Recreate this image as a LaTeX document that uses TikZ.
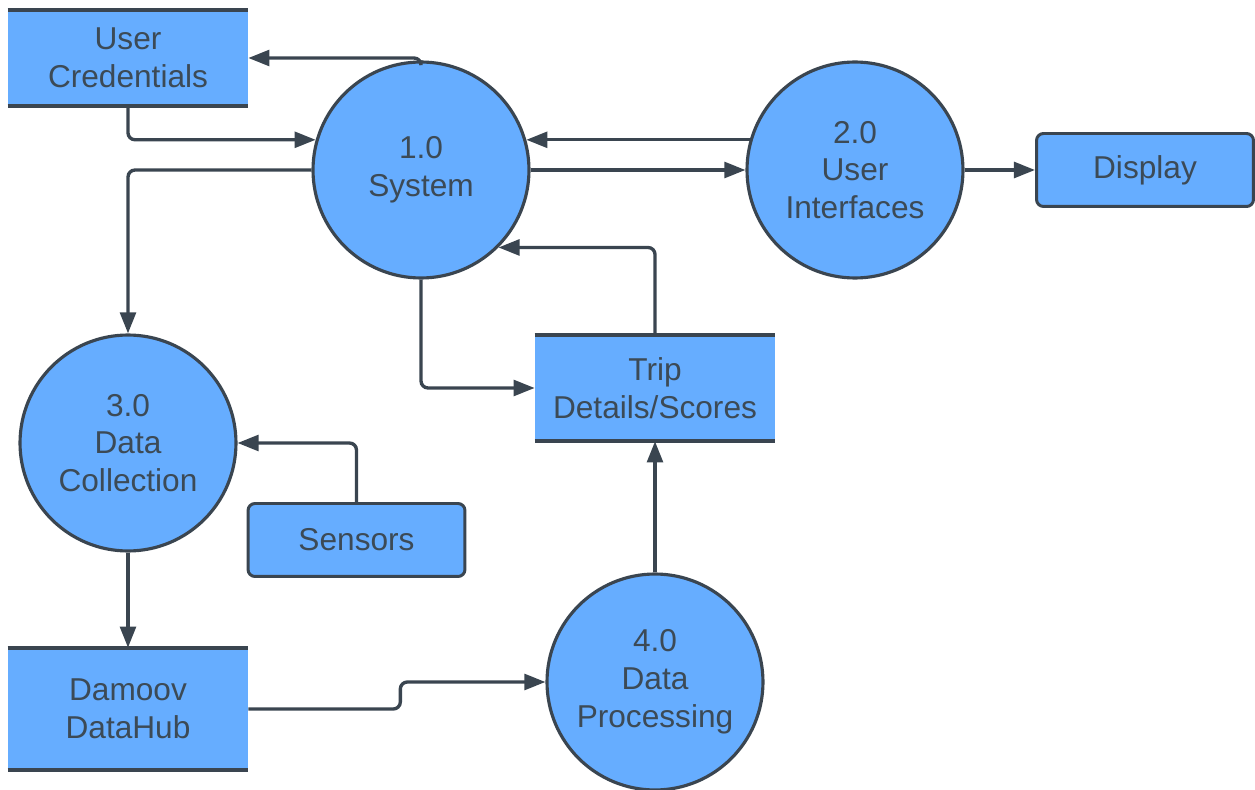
\documentclass[tikz,border=0pt]{standalone}
\usepackage{fontspec}
\setmainfont{Liberation Sans}
\usetikzlibrary{arrows.meta}
\definecolor{fillblue}{RGB}{102,173,255}
\definecolor{edge}{RGB}{58,69,80}
\definecolor{txt}{RGB}{60,74,86}
\begin{document}
\begin{tikzpicture}[x=0.02cm,y=-0.02cm,
  every node/.style={font=\fontsize{18}{21.5}\selectfont, text=txt, align=center},
  proc/.style={circle, fill=fillblue, draw=edge, line width=1.8pt, minimum size=4.32cm, inner sep=0pt},
  store/.style={rectangle, fill=fillblue, minimum width=4.8cm, inner sep=0pt},
  ent/.style={rectangle, rounded corners=4pt, fill=fillblue, draw=edge, line width=1.7pt, minimum width=4.34cm, minimum height=1.46cm, inner sep=0pt},
  sline/.style={draw=edge, line width=2.2pt},
  arr/.style={draw=edge, line width=1.9pt, rounded corners=4pt, -{Triangle[length=12pt,width=9pt]}}
]
\useasboundingbox (0,0) rectangle (1255,790);

\node[store, minimum height=1.92cm] (uc) at (128,58) {User\\Credentials};
\draw[sline] (uc.north west) -- (uc.north east);
\draw[sline] (uc.south west) -- (uc.south east);

\node[store, minimum height=2.12cm] (trip) at (655,388) {Trip\\Details/Scores};
\draw[sline] (trip.north west) -- (trip.north east);
\draw[sline] (trip.south west) -- (trip.south east);

\node[store, minimum height=2.44cm] (dh) at (128,709) {Damoov\\DataHub};
\draw[sline] (dh.north west) -- (dh.north east);
\draw[sline] (dh.south west) -- (dh.south east);

\node[proc] (s1) at (421,170) {1.0\\System};
\node[proc] (s2) at (855,170) {2.0\\User\\Interfaces};
\node[proc] (s3) at (128,443) {3.0\\Data\\Collection};
\node[proc] (s4) at (655,682) {4.0\\Data\\Processing};

\node[ent] (disp) at (1145,170) {Display};
\node[ent] (sens) at (356.5,540) {Sensors};

\draw[arr] (s1.north) |- (uc.east);
\draw[arr] (uc.south) |- (s1.164);
\draw[arr] (s1.west) -| (s3.north);
\draw[arr] (s2.164) -- (s1.16);
\draw[arr] (s1.east) -- (s2.west);
\draw[arr] (s2.east) -- (disp.west);
\draw[arr] (s1.south) |- (trip.west);
\draw[arr] (trip.north) |- (s1.-45);
\draw[arr] (s4.north) -- (trip.south);
\draw[arr] (sens.north) |- (s3.east);
\draw[arr] (s3.south) -- (dh.north);
\draw[arr] (dh.east) -- ++(152,0) |- (s4.west);
\end{tikzpicture}
\end{document}
